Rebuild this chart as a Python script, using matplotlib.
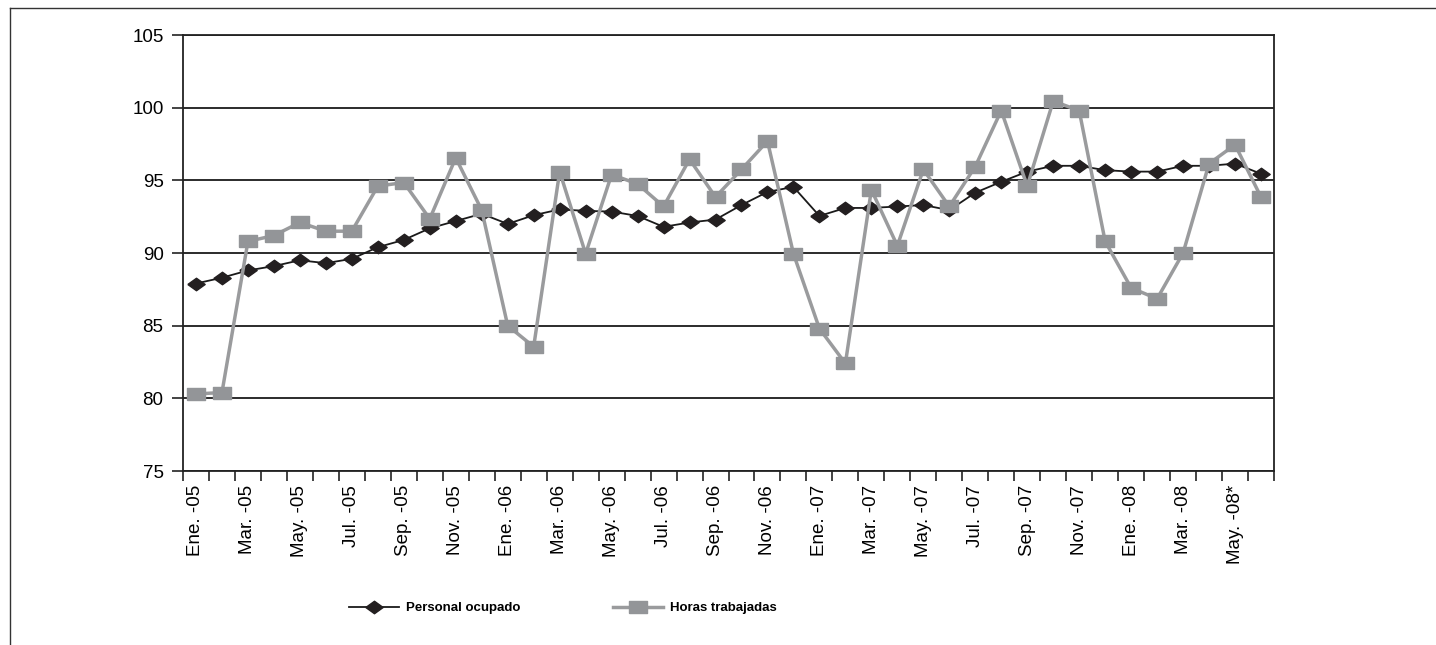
import matplotlib
matplotlib.use("Agg")
import matplotlib.pyplot as plt
from matplotlib import font_manager
from matplotlib.lines import Line2D
import numpy as np

months = ["Ene.", "Feb.", "Mar.", "Abr.", "May.", "Jun.", "Jul.", "Ago.", "Sep.", "Oct.", "Nov.", "Dic."]
categories = []
for yr in ["05", "06", "07", "08"]:
    for m in months:
        categories.append(f"{m} -{yr}")
categories = categories[:42]
categories[40] = "May. -08*"

personal = [87.9, 88.3, 88.8, 89.1, 89.5, 89.3, 89.6, 90.4, 90.9, 91.7,
            92.2, 92.7, 92.0, 92.6, 93.0, 92.9, 92.85, 92.55, 91.8, 92.1,
            92.3, 93.3, 94.2, 94.55, 92.55, 93.1, 93.1, 93.2, 93.3, 92.95,
            94.15, 94.9, 95.6, 96.0, 96.0, 95.7, 95.6, 95.6, 96.0, 96.0,
            96.15, 95.45]
horas = [80.3, 80.4, 90.8, 91.2, 92.1, 91.5, 91.5, 94.6, 94.85, 92.35,
         96.55, 92.95, 85.0, 83.55, 95.6, 89.95, 95.4, 94.75, 93.2, 96.45,
         93.85, 95.75, 97.7, 89.95, 84.8, 82.4, 94.35, 90.5, 95.75, 93.2,
         95.95, 99.8, 94.6, 100.45, 99.8, 90.8, 87.6, 86.85, 90.0, 96.15,
         97.45, 93.85]
yticks = [75, 80, 85, 90, 95, 100, 105]

names = {f.name for f in font_manager.fontManager.ttflist}
base_font = "Liberation Sans" if "Liberation Sans" in names else "DejaVu Sans"
narrow = "Liberation Sans Narrow" if "Liberation Sans Narrow" in names else base_font
plt.rcParams["font.family"] = [base_font, "DejaVu Sans"]

W, H = 1436, 645
fig = plt.figure(figsize=(W / 100, H / 100), dpi=100)
ax = fig.add_axes([183 / W, 1 - 471 / H, (1274 - 183) / W, (471 - 35) / H])

x = np.arange(len(categories))
diamond = [(-1, 0), (0, 0.72), (1, 0), (0, -0.72), (-1, 0)]
rect = [(-1, -0.66), (1, -0.66), (1, 0.66), (-1, 0.66), (-1, -0.66)]

ax.plot(x, personal, color="#1a1a1a", lw=1.3, marker=diamond, markersize=12.5,
        markerfacecolor="#231f20", markeredgecolor="#231f20", label="Personal ocupado", zorder=3)
ax.plot(x, horas, color="#9a9b9d", lw=2.5, marker=rect, markersize=12.5,
        markerfacecolor="#939598", markeredgecolor="#939598", label="Horas trabajadas", zorder=4)

ax.set_xlim(-0.5, len(categories) - 0.5)
ax.set_ylim(75, 105)
ax.set_yticks(yticks)
ax.set_yticklabels([str(v) for v in yticks], fontsize=13.5)
ax.yaxis.grid(True, color="#1a1a1a", lw=1.3)
ax.set_axisbelow(True)

ax.set_xticks(x[::2])
ax.set_xticklabels(categories[::2], rotation=90, fontsize=13.5)
ax.set_xticks(np.arange(-0.5, len(categories), 1), minor=True)
ax.tick_params(axis="x", which="major", length=0, pad=10)
ax.tick_params(axis="x", which="minor", length=7, width=1.2, color="#222222", direction="out")
ax.tick_params(axis="y", length=8, width=1.2, color="#222222", pad=6, direction="out")

for s in ax.spines.values():
    s.set_color("#222222")
    s.set_linewidth(1.3)

leg = fig.legend(loc="center", bbox_to_anchor=(563 / W, 1 - 608 / H), ncol=2, frameon=False,
                 handlelength=3.8, columnspacing=7.0, handletextpad=0.55,
                 prop={"family": [narrow, base_font], "weight": "bold", "size": 9.5})

# outer frame (cropped on right and bottom)
fig.add_artist(Line2D([10 / W, 10 / W], [0, 1 - 8 / H], transform=fig.transFigure, color="#333333", lw=1.0))
fig.add_artist(Line2D([10 / W, 1], [1 - 8 / H, 1 - 8 / H], transform=fig.transFigure, color="#333333", lw=1.0))

fig.savefig("out.png", dpi=100)
